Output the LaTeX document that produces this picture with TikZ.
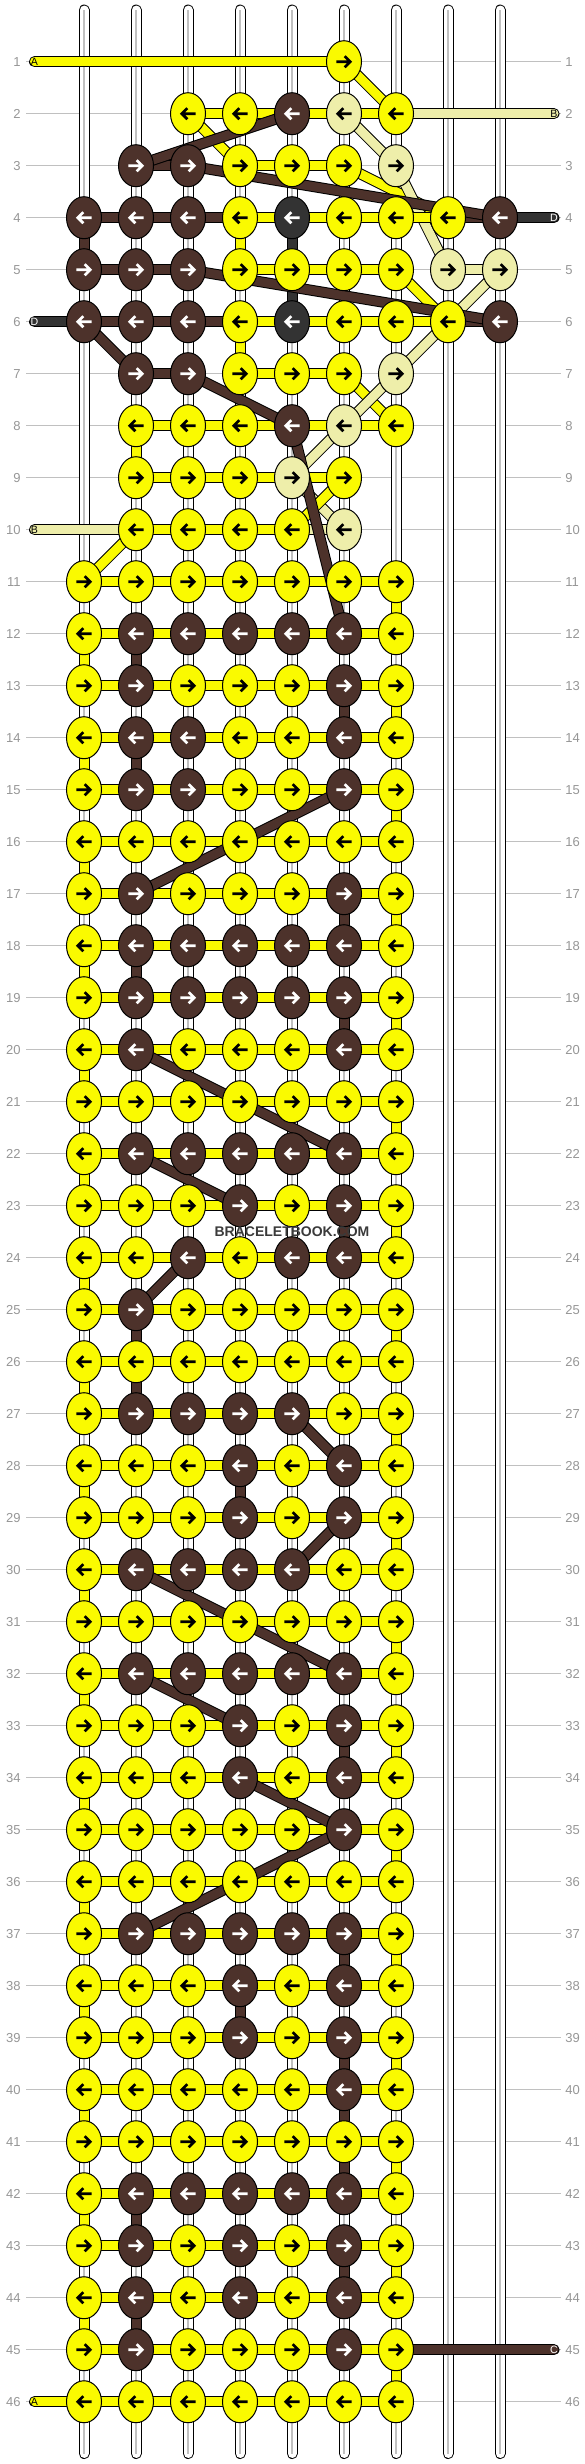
\documentclass[tikz,border=0pt]{standalone}
\usepackage{fontspec}
\setmainfont{Liberation Sans}
\usetikzlibrary{shapes.geometric}
\pgfdeclarelayer{tubes}
\pgfdeclarelayer{bg}
\pgfsetlayers{tubes,bg,main}

\definecolor{colY}{RGB}{250,250,0}
\definecolor{colB}{RGB}{77,50,43}
\definecolor{colP}{RGB}{238,238,170}
\definecolor{colD}{RGB}{51,51,51}
\definecolor{gridgray}{RGB}{192,192,192}
\definecolor{numgray}{RGB}{150,150,150}
\definecolor{markgray}{RGB}{58,58,58}

\tikzset{arrow colour/.store in=\arrcol, arrow colour=black}

\begin{document}
\begin{tikzpicture}[x=0.5pt, y=-0.5pt,
knot/.style={ellipse, draw=black, line width=0.5pt, minimum width=17.5pt, minimum height=21pt, inner sep=0pt},
kY/.style={knot, fill=colY, arrow colour=black},
kB/.style={knot, fill=colB, arrow colour=white},
kP/.style={knot, fill=colP, arrow colour=black},
kD/.style={knot, fill=colD, arrow colour=white},
d1/.style={path picture={\draw[\arrcol, line width=1.35pt, shift={(path picture bounding box.center)}]
  (-3.85pt,0pt) -- (3pt,0pt) (0.35pt,2.75pt) -- (3.1pt,0pt) -- (0.35pt,-2.75pt);}},
d0/.style={path picture={\draw[\arrcol, line width=1.35pt, shift={(path picture bounding box.center)}]
  (3.85pt,0pt) -- (-3pt,0pt) (-0.35pt,2.75pt) -- (-3.1pt,0pt) -- (-0.35pt,-2.75pt);}},
bar/.style={draw=black, line width=0.5pt, double=#1, double distance=4.5pt},
strand/.style={bar=#1, line cap=round},
tubeline/.style={gridgray, line width=0.6pt},
rowline/.style={gridgray, line width=0.5pt},
rowlab/.style={text=numgray, font=\fontsize{6.5}{7}\selectfont, inner sep=0pt},
endlab/.style={font=\fontsize{5.3}{6}\selectfont, inner sep=0pt},
]
\useasboundingbox (0,0) rectangle (584,2464);

% threads hanging down
\foreach \cc in {1,...,9} {
  \coordinate (t-\cc) at ({84+(\cc-1)*52},10);
  \coordinate (b-\cc) at ({84+(\cc-1)*52},2453.5);
}

\foreach \r in {1,...,46} {
  \node[rowlab, anchor=east] (ll-\r) at (21,{61.7+(\r-1)*52}) {\r};
  \node[rowlab, anchor=west] (rl-\r) at (565,{61.7+(\r-1)*52}) {\r};
}

% knots of the first ten rows
\foreach \r/\cc/\k in {1/6/Y,
  2/3/Y, 2/4/Y, 2/5/B, 2/6/P, 2/7/Y,
  3/2/B, 3/3/B, 3/4/Y, 3/5/Y, 3/6/Y, 3/7/P,
  4/1/B, 4/2/B, 4/3/B, 4/4/Y, 4/5/D, 4/6/Y, 4/7/Y, 4/8/Y, 4/9/B,
  5/1/B, 5/2/B, 5/3/B, 5/4/Y, 5/5/Y, 5/6/Y, 5/7/Y, 5/8/P, 5/9/P,
  6/1/B, 6/2/B, 6/3/B, 6/4/Y, 6/5/D, 6/6/Y, 6/7/Y, 6/8/Y, 6/9/B,
  7/2/B, 7/3/B, 7/4/Y, 7/5/Y, 7/6/Y, 7/7/P,
  8/2/Y, 8/3/Y, 8/4/Y, 8/5/B, 8/6/P, 8/7/Y,
  9/2/Y, 9/3/Y, 9/4/Y, 9/5/P, 9/6/Y,
  10/2/Y, 10/3/Y, 10/4/Y, 10/5/Y, 10/6/P} {
  \pgfmathtruncatemacro\odd{mod(\r,2)}
  \node[k\k, d\odd] (k-\r-\cc) at ({84+(\cc-1)*52},{61.7+(\r-1)*52}) {};
}

% knots of rows 11 to 46
\foreach \r/\ka/\kb/\kc/\kd/\ke/\kf/\kg in {
  11/Y/Y/Y/Y/Y/Y/Y, 12/Y/B/B/B/B/B/Y, 13/Y/B/Y/Y/Y/B/Y, 14/Y/B/B/Y/Y/B/Y,
  15/Y/B/B/Y/Y/B/Y, 16/Y/Y/Y/Y/Y/Y/Y, 17/Y/B/Y/Y/Y/B/Y, 18/Y/B/B/B/B/B/Y,
  19/Y/B/B/B/B/B/Y, 20/Y/B/Y/Y/Y/B/Y, 21/Y/Y/Y/Y/Y/Y/Y, 22/Y/B/B/B/B/B/Y,
  23/Y/Y/Y/B/Y/B/Y, 24/Y/Y/B/Y/B/B/Y, 25/Y/B/Y/Y/Y/Y/Y, 26/Y/Y/Y/Y/Y/Y/Y,
  27/Y/B/B/B/B/Y/Y, 28/Y/Y/Y/B/Y/B/Y, 29/Y/Y/Y/B/Y/B/Y, 30/Y/B/B/B/B/Y/Y,
  31/Y/Y/Y/Y/Y/Y/Y, 32/Y/B/B/B/B/B/Y, 33/Y/Y/Y/B/Y/B/Y, 34/Y/Y/Y/B/Y/B/Y,
  35/Y/Y/Y/Y/Y/B/Y, 36/Y/Y/Y/Y/Y/Y/Y, 37/Y/B/B/B/B/B/Y, 38/Y/Y/Y/B/Y/B/Y,
  39/Y/Y/Y/B/Y/B/Y, 40/Y/Y/Y/Y/Y/B/Y, 41/Y/Y/Y/Y/Y/Y/Y, 42/Y/B/B/B/B/B/Y,
  43/Y/B/Y/B/Y/B/Y, 44/Y/B/Y/B/Y/B/Y, 45/Y/B/Y/Y/Y/B/Y, 46/Y/Y/Y/Y/Y/Y/Y} {
  \pgfmathtruncatemacro\odd{mod(\r,2)}
  \foreach \k [count=\cc] in {\ka,\kb,\kc,\kd,\ke,\kf,\kg}
    \node[k\k, d\odd] (k-\r-\cc) at ({84+(\cc-1)*52},{61.7+(\r-1)*52}) {};
}

% loose ends
\node[endlab] (eA1) at (34.5,61.7) {A};
\node[endlab] (eB2) at (554,113.7) {B};
\node[endlab, text=white] (eD4) at (554,217.7) {D};
\node[endlab, text=white] (eD6) at (34.5,321.7) {D};
\node[endlab] (eB10) at (34.5,529.7) {B};
\node[endlab, text=white] (eC45) at (554,2349.7) {C};
\node[endlab] (eA46) at (34.5,2401.7) {A};

\node[font=\bfseries\fontsize{7}{8}\selectfont, text=markgray, inner sep=0pt] (mark) at (292,1231.7) {BRACELETBOOK.COM};

\begin{pgfonlayer}{tubes}
\foreach \r in {1,...,46}
  \draw[rowline] ([xshift=2.5pt]ll-\r.east) -- ([xshift=-2pt]rl-\r.west);
\foreach \cc in {1,...,9} {
  \draw[strand=white] (t-\cc) -- (b-\cc);
  \draw[tubeline] (t-\cc) -- (b-\cc);
}
\end{pgfonlayer}

\begin{pgfonlayer}{bg}
% coloured bits of the hanging threads
\foreach \r/\cc/\k in {4/1/B, 4/4/Y, 4/5/D, 5/5/D, 6/4/Y, 8/2/Y,
  12/2/B, 13/6/B, 14/2/B, 17/6/B, 18/2/B, 19/6/B, 23/6/B, 25/2/B, 26/2/B,
  28/4/B, 33/6/B, 37/6/B, 38/4/B, 39/6/B, 40/6/B, 41/6/B, 42/2/B, 43/6/B, 44/2/B} {
  \pgfmathtruncatemacro\rn{\r+1}
  \draw[bar=col\k] (k-\r-\cc.center) -- (k-\rn-\cc.center);
}
\foreach \r in {12,14,...,44} {
  \pgfmathtruncatemacro\rn{\r+1}
  \draw[bar=colY] (k-\r-1.center) -- (k-\rn-1.center);
}
\foreach \r in {11,13,...,45} {
  \pgfmathtruncatemacro\rn{\r+1}
  \draw[bar=colY] (k-\r-7.center) -- (k-\rn-7.center);
}

\foreach \ra/\ca/\rb/\cb/\k in {1/6/2/7/Y, 2/3/3/4/Y, 2/6/3/7/P, 3/6/4/8/Y, 3/7/5/8/P,
  5/7/6/8/Y, 5/9/6/8/P, 6/8/7/7/P, 7/6/8/7/Y, 7/7/8/6/P, 8/6/9/5/P,
  9/5/10/6/P, 9/6/10/5/Y, 10/2/11/1/Y}
  \draw[bar=col\k] (k-\ra-\ca.center) -- (k-\rb-\cb.center);

% carrier rows
\foreach \r/\cc/\k in {2/3/Y, 2/4/Y, 2/5/Y, 2/6/Y,
  3/2/B, 3/4/Y, 3/5/Y,
  4/1/B, 4/2/B, 4/3/B, 4/4/Y, 4/5/Y, 4/6/Y, 4/7/Y, 4/8/B,
  5/1/B, 5/2/B, 5/4/Y, 5/5/Y, 5/6/Y, 5/8/P,
  6/1/B, 6/2/B, 6/3/B, 6/4/Y, 6/5/Y, 6/6/Y, 6/7/Y, 6/8/B,
  7/2/B, 7/4/Y, 7/5/Y,
  8/2/Y, 8/3/Y, 8/4/Y, 8/5/Y, 8/6/Y,
  9/2/Y, 9/3/Y, 9/4/Y, 9/5/Y,
  10/2/Y, 10/3/Y, 10/4/Y, 10/5/P} {
  \pgfmathtruncatemacro\cn{\cc+1}
  \draw[bar=col\k] (k-\r-\cc.center) -- (k-\r-\cn.center);
}
\foreach \r in {11,...,46}
  \foreach \cc in {1,...,6} {
    \pgfmathtruncatemacro\cn{\cc+1}
    \draw[bar=colY] (k-\r-\cc.center) -- (k-\r-\cn.center);
  }

\draw[strand=colY] (eA1.center) -- (k-1-6.center);
\draw[strand=colP] (k-2-7.center) -- (eB2.center);
\draw[strand=colD] (k-4-9.center) -- (eD4.center);
\draw[strand=colD] (eD6.center) -- (k-6-1.center);
\draw[strand=colP] (eB10.center) -- (k-10-2.center);
\draw[strand=colB] (k-45-7.center) -- (eC45.center);
\draw[strand=colY] (eA46.center) -- (k-46-1.center);

% the brown thread
\foreach \ra/\ca/\rb/\cb in {2/5/3/2, 3/3/4/9, 5/3/6/9, 6/1/7/2, 7/3/8/5, 8/5/12/6,
  15/6/17/2, 20/2/22/6, 22/2/23/4, 24/3/25/2, 27/5/28/6, 29/6/30/5,
  30/2/32/6, 32/2/33/4, 34/4/35/6, 35/6/37/2}
  \draw[bar=colB] (k-\ra-\ca.center) -- (k-\rb-\cb.center);
\end{pgfonlayer}
\end{tikzpicture}
\end{document}
